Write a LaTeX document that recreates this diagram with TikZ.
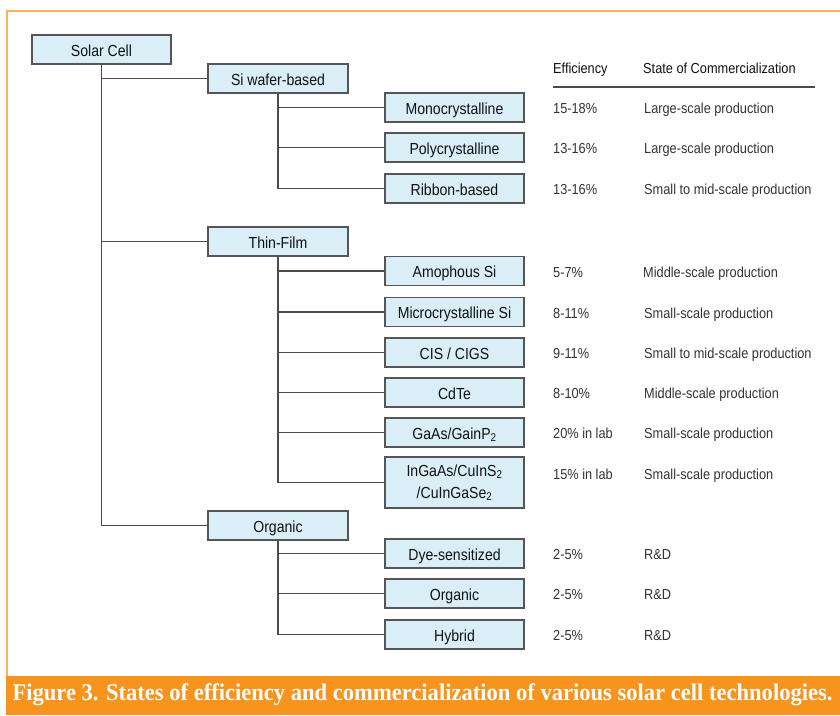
\documentclass[tikz,border=0pt]{standalone}
\usepackage{fontspec}
\setmainfont{Liberation Sans}[FakeStretch=0.88]
\newfontfamily\capfont{Liberation Serif}[FakeStretch=0.94]
\definecolor{boxfill}{HTML}{D9EEF7}
\definecolor{boxline}{HTML}{555555}
\definecolor{linecol}{HTML}{4A4A4A}
\definecolor{txt}{HTML}{111111}
\definecolor{coltxt}{HTML}{333333}
\definecolor{orangeband}{HTML}{F7941E}
\definecolor{orangeline}{HTML}{F9B15C}
\newcommand{\boxfont}{\fontsize{16}{19}\selectfont}
\newcommand{\colfont}{\fontsize{14.5}{17}\selectfont}
\tikzset{
  cellbox/.style={draw=boxline, fill=boxfill, line width=1.1pt, minimum width=139pt,
    minimum height=29pt, inner sep=0pt, font=\boxfont, text=txt, align=center,
    text height=13pt, text depth=0pt},
  tallbox/.style={draw=boxline, fill=boxfill, line width=1.1pt, minimum width=139pt,
    minimum height=51pt, inner sep=0pt, font=\fontsize{16}{22}\selectfont, text=txt, align=center},
  link/.style={draw=linecol, line width=1.3pt},
  coltext/.style={anchor=west, inner sep=0pt, font=\colfont, text=coltxt,
    text height=12pt, text depth=0pt},
}
\begin{document}
\begin{tikzpicture}[x=1pt,y=-1pt]
\useasboundingbox (0,0) rectangle (840,715);
\fill[white] (0,0) rectangle (840,715);
% frame
\draw[orangeline, line width=1.5pt] (840,11) -- (7,11) -- (7,677);
\fill[orangeband] (6,676) rectangle (840,715);
\node[font=\capfont\bfseries\fontsize{24}{27}\selectfont, text=white, inner sep=0pt] (cap) at (422.5,695) {Figure 3. States of efficiency and commercialization of various solar cell technologies.};

% header
\node[coltext, text=txt] (hEff) at (553,67) {Efficiency};
\node[coltext, text=txt] (hCom) at (643,67) {State of Commercialization};
\draw[linecol, line width=1.2pt] (553,87) -- (815,87);

% level 0
\node[cellbox] (sc) at (101.5,49.5) {Solar Cell};
% level 1
\node[cellbox, minimum width=140pt] (si) at (278,78.5) {Si wafer-based};
\node[cellbox, minimum width=140pt] (tf) at (278,241.5) {Thin-Film};
\node[cellbox, minimum width=140pt] (og) at (278,525.5) {Organic};
% level 2
\node[cellbox] (mono) at (454.5,107.5) {Monocrystalline};
\node[cellbox] (poly) at (454.5,147.5) {Polycrystalline};
\node[cellbox] (rib)  at (454.5,188.5) {Ribbon-based};
\node[cellbox] (amo)  at (454.5,271) {Amophous Si};
\node[cellbox] (mic)  at (454.5,312) {Microcrystalline Si};
\node[cellbox] (cis)  at (454.5,352.5) {CIS / CIGS};
\node[cellbox] (cdte) at (454.5,392.5) {CdTe};
\node[cellbox] (gaas) at (454.5,432.5) {GaAs/GainP\textsubscript{2}};
\node[tallbox] (ingaas) at (454.5,482.5) {InGaAs/CuInS\textsubscript{2}\\/CuInGaSe\textsubscript{2}};
\node[cellbox] (dye)  at (454.5,553.5) {Dye-sensitized};
\node[cellbox] (org2) at (454.5,593.5) {Organic};
\node[cellbox] (hyb)  at (454.5,634.5) {Hybrid};

% connectors
\draw[link] (sc.south) |- (si.west);
\draw[link] (sc.south) |- (tf.west);
\draw[link] (sc.south) |- (og.west);
\draw[link] (si.south) |- (mono.west);
\draw[link] (si.south) |- (poly.west);
\draw[link] (si.south) |- (rib.west);
\draw[link] (tf.south) |- (amo.west);
\draw[link] (tf.south) |- (mic.west);
\draw[link] (tf.south) |- (cis.west);
\draw[link] (tf.south) |- (cdte.west);
\draw[link] (tf.south) |- (gaas.west);
\draw[link] (tf.south) |- (ingaas.west);
\draw[link] (og.south) |- (dye.west);
\draw[link] (og.south) |- (org2.west);
\draw[link] (og.south) |- (hyb.west);

% efficiency column
\node[coltext] (e1) at (553,107.5) {15-18\%};
\node[coltext] (e2) at (553,147.5) {13-16\%};
\node[coltext] (e3) at (553,188.5) {13-16\%};
\node[coltext] (e4) at (553,271) {5-7\%};
\node[coltext] (e5) at (553,312) {8-11\%};
\node[coltext] (e6) at (553,352.5) {9-11\%};
\node[coltext] (e7) at (553,392.5) {8-10\%};
\node[coltext] (e8) at (553,432.5) {20\% in lab};
\node[coltext] (e9) at (553,473) {15\% in lab};
\node[coltext] (e10) at (553,553.5) {2-5\%};
\node[coltext] (e11) at (553,593.5) {2-5\%};
\node[coltext] (e12) at (553,634.5) {2-5\%};
% commercialization column
\node[coltext] (c1) at (644,107.5) {Large-scale production};
\node[coltext] (c2) at (644,147.5) {Large-scale production};
\node[coltext] (c3) at (644,188.5) {Small to mid-scale production};
\node[coltext] (c4) at (643,271) {Middle-scale production};
\node[coltext] (c5) at (644,312) {Small-scale production};
\node[coltext] (c6) at (644,352.5) {Small to mid-scale production};
\node[coltext] (c7) at (644,392.5) {Middle-scale production};
\node[coltext] (c8) at (644,432.5) {Small-scale production};
\node[coltext] (c9) at (644,473) {Small-scale production};
\node[coltext] (c10) at (644,553.5) {R\&D};
\node[coltext] (c11) at (644,593.5) {R\&D};
\node[coltext] (c12) at (644,634.5) {R\&D};
\end{tikzpicture}
\end{document}
